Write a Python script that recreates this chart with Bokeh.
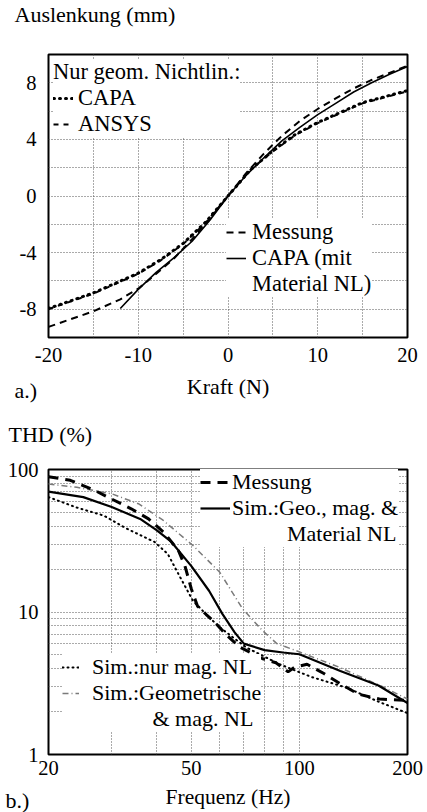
from bokeh.plotting import figure
from bokeh.models import (FixedTicker, Legend, LegendItem, Title, NumeralTickFormatter,
                          CustomJSTickFormatter)
from bokeh.layouts import column
from bokeh.embed import file_html
from bokeh.resources import INLINE

FONT = "Liberation Serif"

# ---------------- data: a.) Auslenkung vs Kraft ----------------
force_geo = [-20, -15, -10, -7.5, -5, -2.5, 0, 2.5, 5, 7.5, 10, 15, 20]
defl_capa_geo = [-7.95, -6.85, -5.45, -4.5, -3.35, -1.85, 0, 1.85, 3.2, 4.35, 5.2, 6.6, 7.45]
defl_ansys_geo = [-8.0, -6.9, -5.5, -4.55, -3.4, -1.9, 0, 1.85, 3.15, 4.3, 5.15, 6.55, 7.4]

force_mess = [-20, -15, -12, -10, -8, -6, -4, -2, 0, 2, 4, 6, 8, 10, 12, 14, 16, 18, 20]
defl_mess = [-9.25, -8.15, -7.3, -6.55, -5.5, -4.4, -3.05, -1.6, 0, 1.6, 3.0, 4.25, 5.3,
             6.15, 6.9, 7.6, 8.2, 8.7, 9.2]

force_mat = [-12, -10, -8, -6, -4, -2, 0, 2, 4, 6, 8, 10, 12, 14, 16, 18, 20]
defl_capa_mat = [-7.95, -6.6, -5.4, -4.35, -3.2, -1.7, 0, 1.45, 2.7, 3.9, 4.85, 5.75,
                 6.55, 7.35, 8.0, 8.6, 9.15]

kraft_ticks = [-20, -10, 0, 10, 20]
kraft_minor = [-15, -5, 5, 15]
ausl_ticks = [-8, -4, 0, 4, 8]
ausl_minor = [-10, -6, -2, 2, 6, 10]

# ---------------- data: b.) THD vs Frequenz ----------------
freq_mess = [20, 23, 27, 30, 34, 38, 42, 46, 48, 50, 52, 55, 58, 63, 68, 79, 86, 93, 97,
             105, 117, 131, 146, 167, 200]
thd_mess = [89, 84, 71, 62, 53, 45, 36, 27, 21, 14.5, 11, 9.6, 8.5, 6.8, 5.7, 4.7, 4.4,
            3.8, 4.1, 4.3, 3.7, 3.1, 2.65, 2.45, 2.4]

freq_full = [20, 25, 30, 36, 40, 44, 50, 56, 61, 66, 70, 80, 90, 100, 130, 166, 200]
thd_full = [70, 64, 54.5, 45, 37.5, 31, 21, 14.1, 9.7, 7.2, 6.0, 5.4, 5.2, 5.05, 3.85,
            3.05, 2.3]

freq_mag = [20, 24, 28.5, 33, 39.5, 43, 46.5, 50.5, 55.5, 60, 71, 88, 108, 135, 166, 200]
thd_mag = [64, 54, 47.5, 38.5, 31, 25.5, 17.6, 12, 9.4, 7.8, 5.65, 4.3, 3.5, 2.95, 2.35, 1.95]

freq_geomag = [20, 24, 30, 35.6, 41.5, 50.5, 60, 69.5, 78.5, 86.5, 97, 129, 170, 200]
thd_geomag = [79, 75, 67.5, 57.5, 44.5, 29.3, 19, 10.5, 7.5, 6.0, 5.4, 4.1, 3.0, 2.45]

freq_ticks = [20, 50, 100, 200]
freq_minor = [30, 40, 60, 70, 80, 90]
thd_ticks = [1, 10, 100]
thd_minor = [2, 3, 4, 5, 6, 7, 8, 9, 20, 30, 40, 50, 60, 70, 80, 90]

GRID = "#555555"


def style(p, xt, xm, yt, ym, tick_size, xstand, ystand):
    p.outline_line_color = "black"
    p.outline_line_width = 2
    p.outline_line_alpha = 1
    p.background_fill_color = "white"
    p.border_fill_color = "white"
    xtick = FixedTicker(ticks=xt, minor_ticks=xm)
    ytick = FixedTicker(ticks=yt, minor_ticks=ym)
    p.xaxis.ticker = xtick
    p.yaxis.ticker = ytick
    p.xgrid.ticker = xtick
    p.ygrid.ticker = ytick
    for g in (p.xgrid, p.ygrid):
        g.grid_line_color = GRID
        g.grid_line_dash = "1 2"
        g.grid_line_width = 1
        g.minor_grid_line_color = GRID
        g.minor_grid_line_dash = "1 2"
        g.minor_grid_line_width = 1
    for ax in (p.xaxis, p.yaxis):
        ax.axis_line_color = None
        ax.major_tick_in = 0
        ax.major_tick_out = 0
        ax.minor_tick_in = 0
        ax.minor_tick_out = 0
        ax.major_label_text_font = FONT
        ax.major_label_text_font_size = tick_size
        ax.major_label_text_color = "black"
        ax.axis_label_text_font = FONT
        ax.axis_label_text_font_style = "normal"
        ax.axis_label_text_color = "black"
    p.xaxis.major_label_standoff = xstand
    p.yaxis.major_label_standoff = ystand


def legend(items, fs, gw, stand, pad, **kw):
    return Legend(items=items, label_text_font=FONT, label_text_font_size=fs,
                  label_text_color="black", glyph_width=gw, glyph_height=18,
                  label_standoff=stand, label_height=18, spacing=0, padding=pad,
                  background_fill_color="white", background_fill_alpha=1.0,
                  border_line_color=None, **kw)


def title(text, size, offset, standoff, valign="top"):
    return Title(text=text, align="left", offset=offset, standoff=standoff,
                 vertical_align=valign, text_font=FONT, text_font_size=size,
                 text_font_style="normal", text_color="black")


# ---------------- figure a.) ----------------
p1 = figure(width=427, height=408, x_range=(-20, 20), y_range=(-10, 10),
            output_backend="svg", toolbar_location=None,
            min_border_left=46, min_border_right=20, min_border_top=54,
            min_border_bottom=71)
style(p1, kraft_ticks, kraft_minor, ausl_ticks, ausl_minor, "20.5px", 10, 12)
p1.xaxis.formatter = CustomJSTickFormatter(code="return String(tick);")
p1.yaxis.formatter = CustomJSTickFormatter(code="return String(tick);")
p1.xaxis.axis_label = "Kraft (N)"
p1.xaxis.axis_label_text_font_size = "22px"
p1.xaxis.axis_label_standoff = 9

r_capa = p1.line(force_geo, defl_capa_geo, line_color="black", line_width=3,
                 line_dash="1 5", line_cap="round")
r_ansys = p1.line(force_geo, defl_ansys_geo, line_color="black", line_width=2,
                  line_dash="5 5")
r_mess = p1.line(force_mess, defl_mess, line_color="black", line_width=2,
                 line_dash="7 5")
r_mat = p1.line(force_mat, defl_capa_mat, line_color="black", line_width=1.6)
r_blank1 = p1.line([], [], line_alpha=0)

leg1 = legend([LegendItem(label="CAPA", renderers=[r_capa]),
               LegendItem(label="ANSYS", renderers=[r_ansys])],
              "22.5px", 20, 5, 12, title="Nur geom. Nichtlin.:",
              title_text_font=FONT, title_text_font_size="22.5px",
              title_text_font_style="normal", title_text_color="black",
              title_standoff=0, location="top_left", margin=5)
leg2 = legend([LegendItem(label="Messung", renderers=[r_mess]),
               LegendItem(label="CAPA (mit", renderers=[r_mat]),
               LegendItem(label="Material NL)", renderers=[r_blank1])],
              "22.5px", 20, 6, 7, location=(178, 40))
p1.add_layout(leg1)
p1.add_layout(leg2)

# spacer (closest to frame) then the y-axis caption above it
p1.add_layout(title(" ", "10px", 0, 13), "above")
p1.add_layout(title("Auslenkung (mm)", "22px", -34, 0), "above")
p1.add_layout(title("a.)", "22px", -34, -48), "below")

# ---------------- figure b.) ----------------
p2 = figure(width=427, height=404, x_axis_type="log", y_axis_type="log",
            x_range=(20, 200), y_range=(1, 100),
            output_backend="svg", toolbar_location=None,
            min_border_left=48, min_border_right=18, min_border_top=61,
            min_border_bottom=58)
style(p2, freq_ticks, freq_minor, thd_ticks, thd_minor, "20.5px", 6, 10)
p2.xaxis.formatter = NumeralTickFormatter(format="0")
p2.yaxis.formatter = NumeralTickFormatter(format="0")
p2.xaxis.axis_label = "Frequenz (Hz)"
p2.xaxis.axis_label_text_font_size = "21.5px"
p2.xaxis.axis_label_standoff = 7

q_geomag = p2.line(freq_geomag, thd_geomag, line_color="#7a7a7a", line_width=1.5,
                   line_dash="6 3 1 3")
q_mag = p2.line(freq_mag, thd_mag, line_color="black", line_width=2,
                line_dash="1 4", line_cap="round")
q_mess = p2.line(freq_mess, thd_mess, line_color="black", line_width=3,
                 line_dash="10 7")
q_full = p2.line(freq_full, thd_full, line_color="black", line_width=2.2)
q_blank1 = p2.line([], [], line_alpha=0)
q_blank2 = p2.line([], [], line_alpha=0)

NB = "\u00a0"
leg3 = legend([LegendItem(label="Messung", renderers=[q_mess]),
               LegendItem(label="Sim.:Geo., mag. &", renderers=[q_full]),
               LegendItem(label=NB * 10 + "Material NL", renderers=[q_blank1])],
              "22px", 30, 2, 4, location=(152, 207))
leg4 = legend([LegendItem(label="Sim.:nur mag. NL", renderers=[q_mag]),
               LegendItem(label="Sim.:Geometrische", renderers=[q_geomag]),
               LegendItem(label=NB * 11 + "& mag. NL", renderers=[q_blank2])],
              "22px", 17, 13, 6, location=(14, 22))
p2.add_layout(leg3)
p2.add_layout(leg4)

p2.add_layout(title(" ", "10px", 0, 8), "above")
p2.add_layout(title("THD (%)", "22px", -40, 0), "above")
p2.add_layout(title("b.)", "22px", -43, -48), "below")

layout = column(p1, p2, spacing=0)
open("out.html", "w").write(file_html(layout, INLINE))
